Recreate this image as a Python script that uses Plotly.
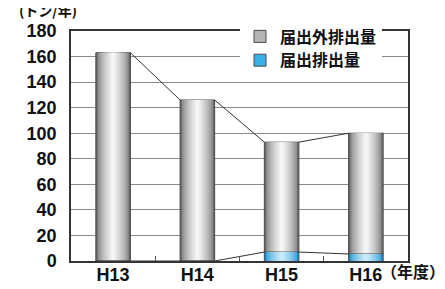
import plotly.graph_objects as go

categories = ["H13", "H14", "H15", "H16"]
reported = [0, 0, 7, 5.5]              # 届出排出量
unreported = [163, 126, 86, 94.5]      # 届出外排出量
y_ticks = [0, 20, 40, 60, 80, 100, 120, 140, 160, 180]

FONT = "Liberation Sans, Arial, Noto Sans CJK JP, sans-serif"
BAR_W = 0.41
N = 10

def mix(c1, c2, t):
    return "rgb(%d,%d,%d)" % tuple(round(a + (b - a) * t) for a, b in zip(c1, c2))

x = list(range(len(categories)))
totals = [r + u for r, u in zip(reported, unreported)]

fig = go.Figure()

def cylinder(yvals, base, edge, center, name, legend_color):
    for k in range(N):
        t = k / (N - 1)
        w = BAR_W * (1 - k / N)
        shade = t ** 0.6
        fig.add_trace(go.Bar(
            x=x, y=yvals, base=base, width=w,
            marker=dict(color=mix(edge, center, shade),
                        line=dict(color="#4a4a4a" if k == 0 else "rgba(0,0,0,0)",
                                  width=1 if k == 0 else 0)),
            showlegend=False, hoverinfo="skip"))
    fig.add_trace(go.Bar(x=[None], y=[None], name=name,
                         marker=dict(color=legend_color, line=dict(color="#4a4a4a", width=1)),
                         showlegend=True))

cylinder(unreported, reported, (105, 105, 105), (245, 245, 245), "届出外排出量", "#b5b5b5")
cylinder(reported, [0] * len(reported), (20, 140, 205), (200, 236, 251), "届出排出量", "#3aaee6")

for vals in (totals, reported):
    lx, ly = [], []
    for i in range(len(x) - 1):
        lx += [x[i] + BAR_W / 2, x[i + 1] - BAR_W / 2, None]
        ly += [vals[i], vals[i + 1], None]
    fig.add_trace(go.Scatter(x=lx, y=ly, mode="lines",
                             line=dict(color="#333333", width=1),
                             showlegend=False, hoverinfo="skip"))

fig.update_layout(
    width=445, height=289,
    margin=dict(l=63, r=45, t=17, b=29),
    paper_bgcolor="white", plot_bgcolor="white",
    barmode="overlay",
    font=dict(family=FONT, size=14, color="#111111"),
    legend=dict(x=(232 - 63) / 337, y=1.05, xanchor="left", yanchor="top",
                bgcolor="white", borderwidth=0, traceorder="normal",
                font=dict(family="Noto Sans CJK JP, sans-serif", size=16, color="#111111", weight="bold"),
                itemwidth=30, tracegroupgap=0),
    xaxis=dict(range=[-0.5, 3.5], tickvals=x, ticktext=categories,
               showgrid=False, zeroline=False, ticks="",
               showline=True, linecolor="#333333", linewidth=1.5, mirror=True,
               ticklabelstandoff=-3,
               tickfont=dict(family=FONT, size=18, weight="bold"),
               minor=dict(tickvals=[0.5, 1.5, 2.5], ticks="inside", ticklen=5,
                          tickcolor="#555555", showgrid=False)),
    yaxis=dict(range=[0, 180], tickvals=y_ticks, showgrid=True,
               gridcolor="#8a8a8a", gridwidth=1, zeroline=False, ticks="",
               showline=True, linecolor="#333333", linewidth=1.5, mirror=True,
               ticklabelstandoff=9,
               tickfont=dict(family=FONT, size=18, weight="bold")),
    annotations=[
        dict(text="（年度）", xref="paper", yref="paper", x=(439 - 63) / 337, y=(260 - 271) / 243,
             xanchor="right", yanchor="middle", showarrow=False,
             font=dict(family="Noto Sans CJK JP, sans-serif", size=16, weight="bold")),
        dict(text="(トン/年)", xref="paper", yref="paper", x=(40 - 63) / 337, y=(260 - 7) / 243,
             xanchor="center", yanchor="bottom", showarrow=False,
             font=dict(family="Noto Sans CJK JP, sans-serif", size=14, weight="bold")),
    ],
)

fig.write_html("out.html")
